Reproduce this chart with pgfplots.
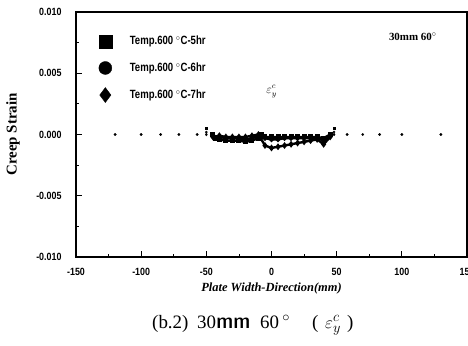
\documentclass[border=0pt]{standalone}
\usepackage{graphicx}
\usepackage{pgfplots}
\pgfplotsset{compat=1.18}
\usepackage{fontspec}
\setmainfont{Liberation Serif}
\newfontfamily\tickfont{Liberation Sans}[FakeStretch=0.85]
\newfontfamily\legfont{Liberation Sans}[FakeStretch=0.8]
\newfontfamily\cjk{Noto Sans CJK KR}
\begin{document}
\begin{tikzpicture}
\useasboundingbox (0,0) rectangle (468bp,346bp);
\begin{axis}[
  at={(76bp,89bp)}, anchor=south west,
  scale only axis, width=391bp, height=245bp,
  xmin=-150, xmax=150, ymin=-0.010, ymax=0.010,
  xtick={-150,-100,-50,0,50,100,150},
  ytick={-0.010,-0.005,0,0.005,0.010},
  minor x tick num=1, minor y tick num=1,
  tick align=inside, tick pos=left,
  major tick length=6bp, minor tick length=3bp,
  axis line style={line width=1.2pt},
  every tick/.style={black, line width=0.8pt},
  /pgf/number format/assume math mode=true,
  scaled y ticks=false,
  yticklabel style={/pgf/number format/.cd, fixed, fixed zerofill, precision=3, /tikz/.cd, font=\tickfont\bfseries\fontsize{10.5}{12}\selectfont, xshift=-11bp},
  xticklabel style={font=\tickfont\bfseries\fontsize{10.5}{12}\selectfont, yshift=-8bp},
  xlabel={\textbf{\textit{Plate Width-Direction(mm)}}},
  xlabel style={font=\fontsize{12.5}{14}\selectfont, at={(axis description cs:0.5,0)}, anchor=center, yshift=-32bp},
  ylabel={\textbf{Creep Strain}},
  ylabel style={font=\fontsize{15}{17}\selectfont, at={(axis description cs:0,0.5)}, anchor=center, yshift=63bp},
  legend style={at={(0.058,0.91)}, anchor=north west, draw=none, fill=none, inner sep=0pt,
    nodes={inner sep=2bp},
    font=\legfont\bfseries\fontsize{12}{13}\selectfont, row sep=12.5bp, column sep=16bp},
  legend cell align=left,
]
\addlegendimage{only marks, mark=square*, mark size=6.5pt, black}
\addlegendentry{Temp.600 $^{\circ}$C-5hr}
\addlegendimage{only marks, mark=*, mark size=6.5pt, black}
\addlegendentry{Temp.600 $^{\circ}$C-6hr}
\addlegendimage{only marks, mark=diamond*, mark size=7.5pt, black}
\addlegendentry{Temp.600 $^{\circ}$C-7hr}
% outer measurement points
\addplot[only marks, mark=*, mark size=1.2pt, black, forget plot] coordinates {
(-120,0) (-100,0) (-85,0) (-71,0) (-57,0) (58,0) (70,0) (83,0) (100,0) (130,0)
};
\addplot[only marks, mark=square*, mark size=1.1pt, black, forget plot] coordinates {
(-50,0.0005) (48,0.0005) };
\addplot[only marks, mark=*, mark size=1.1pt, black, forget plot] coordinates {
(-50,0.0002) (48,0.0002) };
\addplot[only marks, mark=diamond*, mark size=1.4pt, black, forget plot] coordinates {
(-50,0.0000) (48,0.0000) };
% central region, 5hr
\addplot[black, line width=2.4pt, mark=square*, mark size=1.3pt, forget plot] coordinates {
(-45,0) (-43,-0.0003) (-40,-0.0004) (-35,-0.0005) (-30,-0.0005) (-25,-0.0005) (-20,-0.0006) (-15,-0.0005) (-10,-0.0003) (-8,0) (-5,-0.0002) (0,-0.0002) (5,-0.0002) (10,-0.0002) (15,-0.0002) (20,-0.0002) (25,-0.0002) (30,-0.0002) (35,-0.0002) (40,-0.0003) (45,0)
};
% 6hr
\addplot[black, line width=2.4pt, mark=*, mark size=1.3pt, forget plot] coordinates {
(-45,-0.0001) (-40,-0.0002) (-35,-0.0003) (-30,-0.0003) (-25,-0.0003) (-20,-0.0004) (-15,-0.0003) (-10,-0.0001) (-5,-0.0003) (0,-0.0004) (5,-0.0004) (10,-0.0003) (15,-0.0003) (20,-0.0003) (25,-0.0003) (30,-0.0003) (35,-0.0003) (40,-0.0005) (45,-0.0001)
};
% 7hr
\addplot[black, line width=2.4pt, mark=diamond*, mark size=1.5pt, forget plot] coordinates {
(-45,-0.0002) (-40,-0.0001) (-35,-0.0002) (-30,-0.0002) (-25,-0.0002) (-20,-0.0002) (-15,-0.0001) (-10,0) (-5,-0.0009) (0,-0.0011) (5,-0.0010) (10,-0.0009) (15,-0.0008) (20,-0.0007) (25,-0.0006) (30,-0.0005) (35,-0.0004) (40,-0.0008) (45,-0.0002)
};
\node[font=\bfseries\fontsize{11}{12}\selectfont, anchor=west, inner sep=0pt] at (axis cs:90,0.0080) {30mm 60$^{\circ}$};
\node[font=\fontsize{12}{13}\selectfont] at (axis cs:0,0.0035) {$\varepsilon^{c}_{y}$};
\end{axis}
\begin{scope}[every node/.style={anchor=base west, inner sep=0pt, font=\fontsize{19}{21}\selectfont}]
\node at (152bp,18bp) {(b.2)};
\node at (197bp,18bp) {30\scalebox{1.8}[1]{\cjk ㎜}};
\node at (260bp,18bp) {60\,$^{\circ}$};
\node at (312bp,18bp) {(};
\node at (325bp,18bp) {$\varepsilon^{c}_{y}$};
\node at (347bp,18bp) {)};
\end{scope}
\end{tikzpicture}
\end{document}
